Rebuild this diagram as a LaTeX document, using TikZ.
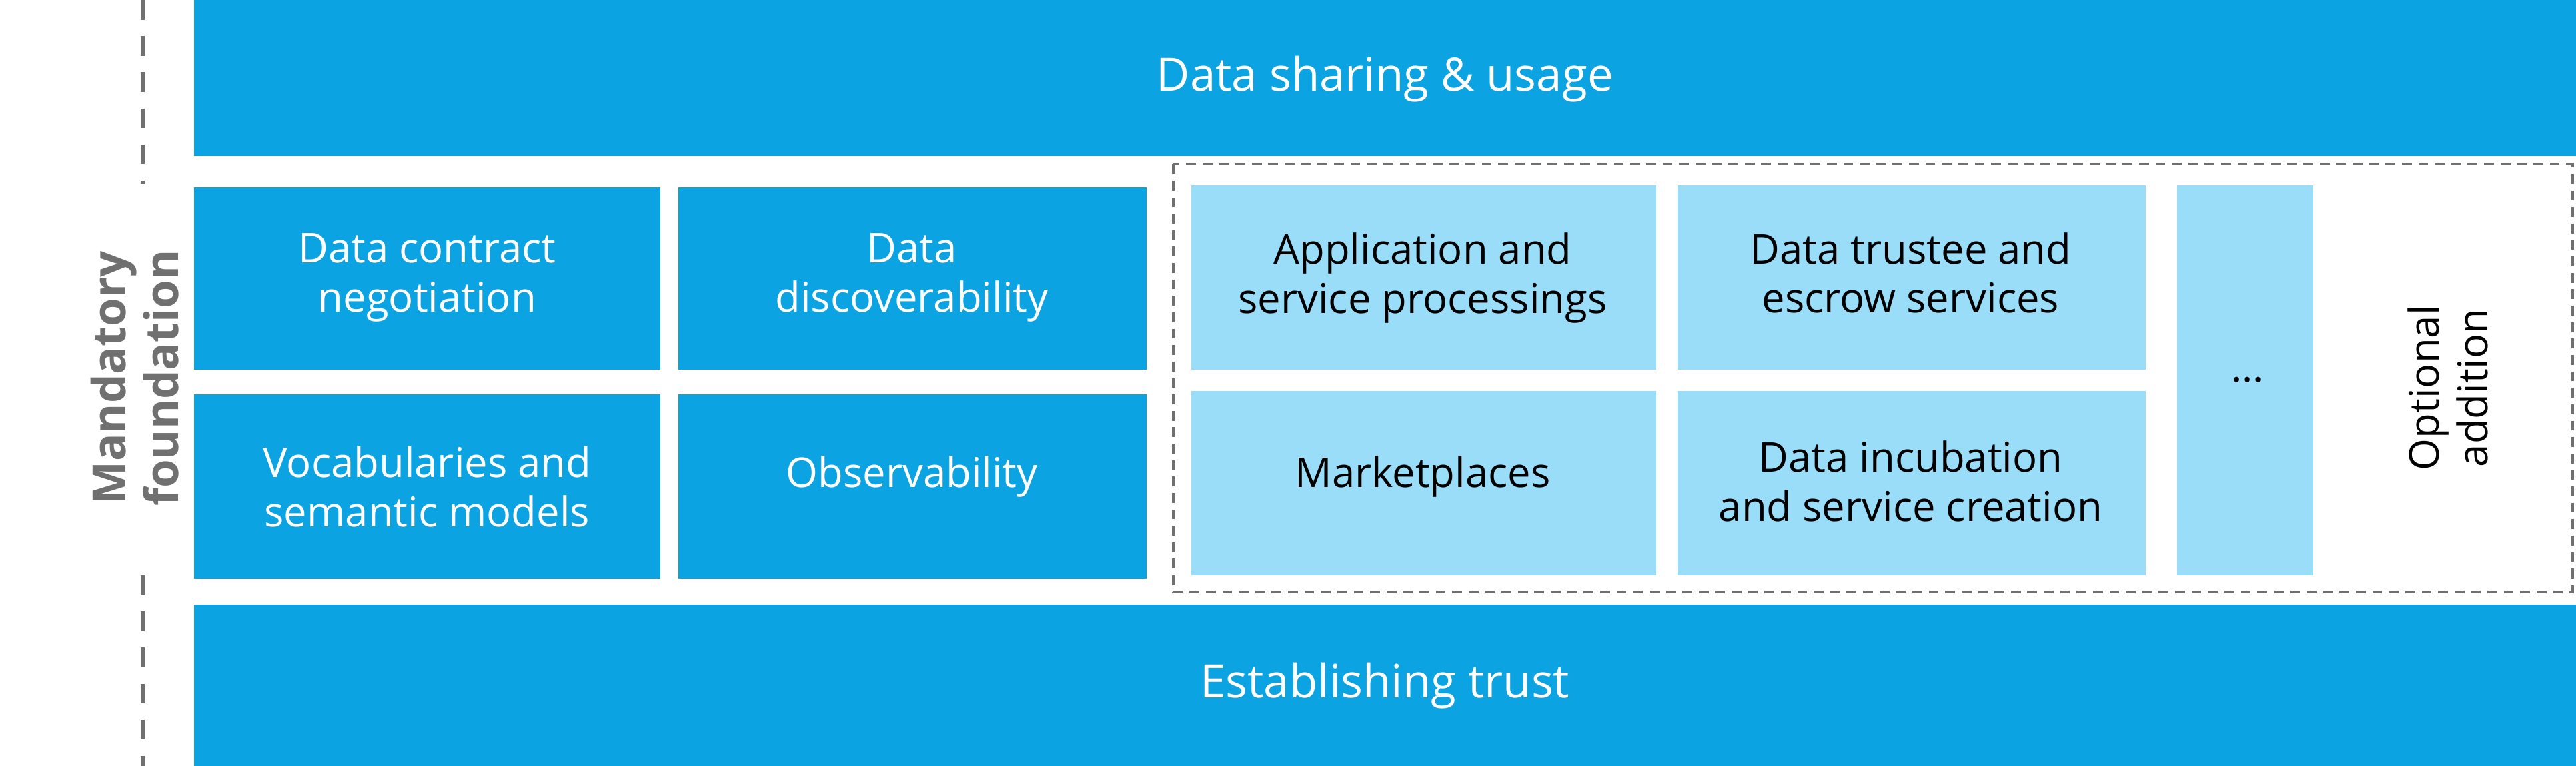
\documentclass[tikz,border=0pt]{standalone}
\usepackage{fontspec}
\setmainfont{Open Sans}
\definecolor{dark}{HTML}{0BA3E2}
\definecolor{light}{HTML}{99DDF9}
\definecolor{gr}{HTML}{707070}
\begin{document}
\begin{tikzpicture}[x=0.5pt,y=-0.5pt,
 dbox/.style={fill=dark,draw=none,text=white,align=center,font=\fontsize{12.5}{15}\selectfont},
 lbox/.style={fill=light,draw=none,text=black,align=center,font=\fontsize{12.5}{15}\selectfont}]
\useasboundingbox (0,0) rectangle (1568,466);
\fill[dark] (118,0) rectangle (1568,95);
\node[text=white,font=\fontsize{14}{17}\selectfont] (top) at (843,48) {Data sharing \& usage};
\fill[dark] (118,368) rectangle (1568,466);
\node[text=white,font=\fontsize{14}{17}\selectfont] (bot) at (843,417) {Establishing trust};
\draw[dashed,gr,line width=1.2pt,dash pattern=on 6pt off 5pt] (87,0) -- (87,112);
\draw[dashed,gr,line width=1.2pt,dash pattern=on 6pt off 5pt] (87,350) -- (87,466);
\node[rotate=90,text=gr,font=\fontsize{14}{16}\selectfont\bfseries,align=center] (mf) at (82,230) {Mandatory\\foundation};
\fill[dark] (118,114) rectangle (402,225); \node[dbox] (a) at (260,169) {Data contract\\negotiation};
\fill[dark] (413,114) rectangle (698,225); \node[dbox] (b) at (555,169) {Data\\discoverability};
\fill[dark] (118,240) rectangle (402,352); \node[dbox] (c) at (260,296) {Vocabularies and\\semantic models};
\fill[dark] (413,240) rectangle (698,352); \node[dbox] (d) at (555,290) {Observability};
\draw[gr,line width=0.8pt,dash pattern=on 3pt off 2pt] (714,100) rectangle (1566,360);
\fill[light] (725,113) rectangle (1008,225); \node[lbox] (e) at (866,169) {Application and\\service processings};
\fill[light] (1021,113) rectangle (1306,225); \node[lbox] (f) at (1163,166) {Data trustee and\\escrow services};
\fill[light] (725,238) rectangle (1008,350); \node[lbox] (g) at (866,290) {Marketplaces};
\fill[light] (1021,238) rectangle (1306,350); \node[lbox] (h) at (1163,293) {Data incubation\\and service creation};
\fill[light] (1325,113) rectangle (1408,350); \node[lbox] (i) at (1368,231) {\dots};
\node[rotate=90,align=center,font=\fontsize{12.5}{15}\selectfont] (opt) at (1490,236) {Optional\\addition};
\end{tikzpicture}
\end{document}
